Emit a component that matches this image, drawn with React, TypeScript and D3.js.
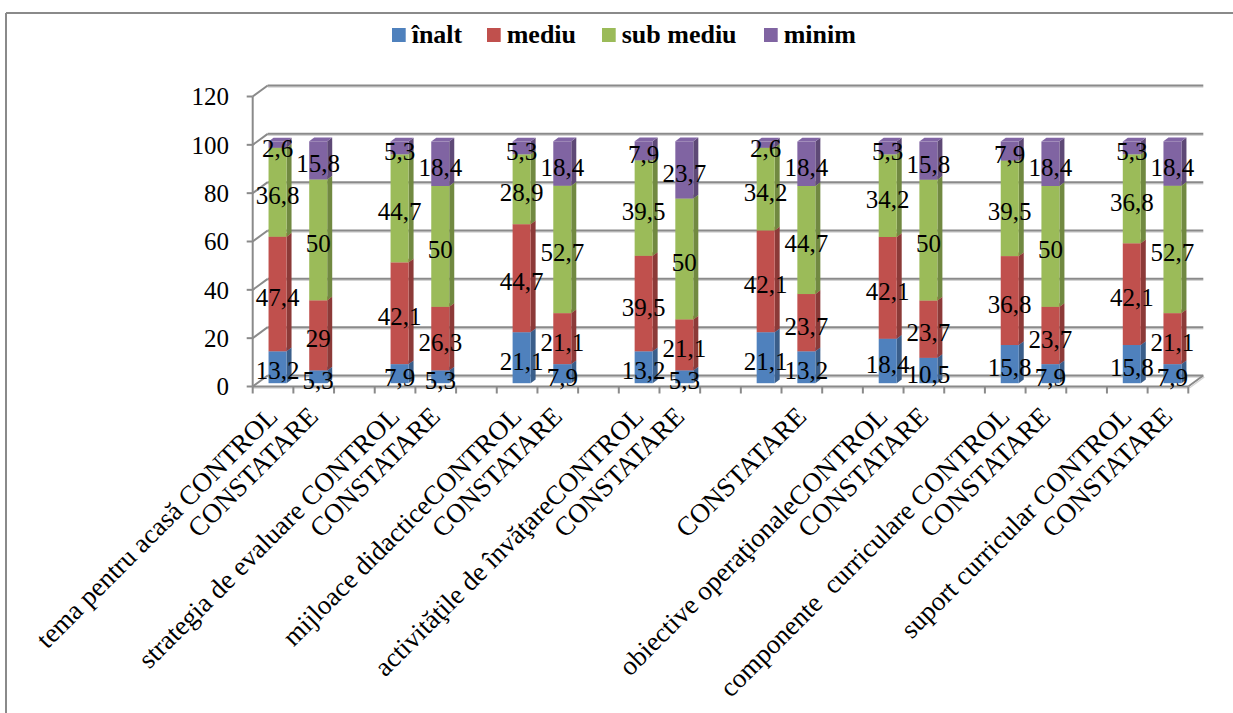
import React from "react";
import * as d3 from "d3";

// Category axis: each pair of columns is followed by an empty slot
const categories: string[] = [
  "tema pentru acasă CONTROL", "CONSTATARE", "",
  "strategia de evaluare CONTROL", "CONSTATARE", "",
  "mijloace didacticeCONTROL", "CONSTATARE", "",
  "activităţile de învăţareCONTROL", "CONSTATARE", "",
  "", "CONSTATARE", "",
  "obiective operaţionaleCONTROL", "CONSTATARE", "",
  "componente  curriculare CONTROL", "CONSTATARE", "",
  "suport curricular CONTROL", "CONSTATARE",
];

const seriesNames = ["înalt", "mediu", "sub mediu", "minim"];
const seriesColors = ["#4F81BD", "#C0504D", "#9BBB59", "#8064A2"];

const inalt: (number | null)[] = [13.2, 5.3, null, 7.9, 5.3, null, 21.1, 7.9, null, 13.2, 5.3, null, 21.1, 13.2, null, 18.4, 10.5, null, 15.8, 7.9, null, 15.8, 7.9];
const mediu: (number | null)[] = [47.4, 29, null, 42.1, 26.3, null, 44.7, 21.1, null, 39.5, 21.1, null, 42.1, 23.7, null, 42.1, 23.7, null, 36.8, 23.7, null, 42.1, 21.1];
const subMediu: (number | null)[] = [36.8, 50, null, 44.7, 50, null, 28.9, 52.7, null, 39.5, 50, null, 34.2, 44.7, null, 34.2, 50, null, 39.5, 50, null, 36.8, 52.7];
const minim: (number | null)[] = [2.6, 15.8, null, 5.3, 18.4, null, 5.3, 18.4, null, 7.9, 23.7, null, 2.6, 18.4, null, 5.3, 15.8, null, 7.9, 18.4, null, 5.3, 18.4];

const yTicks = [0, 20, 40, 60, 80, 100, 120];

const W = 1233;
const H = 713;
const X0 = 252.7;
const X1 = 1188.3;
const Y0 = 386.5;
const Y1 = 96.5;
// depth of the 3D box (back wall offset)
const DX = 15;
const DY = -11;
// bar position inside the depth
const BFX = 4.5;
const BFY = -3.3;
const BDX = 5;
const BDY = -3.7;
const BAR_W = 18;

const FONT = "Liberation Serif, Times New Roman, serif";

const fmt = (v: number) => String(v).replace(".", ",");

export default function App() {
  const series = [inalt, mediu, subMediu, minim];
  const x = d3
    .scaleBand<number>()
    .domain(categories.map((_, i) => i))
    .range([X0, X1])
    .paddingInner(0)
    .paddingOuter(0);
  const y = d3.scaleLinear().domain([0, 120]).range([Y0, Y1]);

  const stack = d3
    .stack<number, string>()
    .keys(seriesNames)
    .value((i, key) => series[seriesNames.indexOf(key)][i] ?? 0);
  const stacked = stack(categories.map((_, i) => i));

  const shade = (c: string, k: number) => {
    const col = d3.color(c)!;
    return k < 1 ? col.darker((1 - k) * 2.2).formatHex() : col.brighter(k - 1).formatHex();
  };

  const gridColor = "#8a8a8a";
  const gridLight = "#d4d4d4";

  const bars: React.ReactNode[] = [];
  const labels: React.ReactNode[] = [];
  categories.forEach((_, i) => {
    if (inalt[i] == null) return;
    const cx = x(i)! + x.bandwidth() / 2;
    const fx0 = cx - BAR_W / 2 + BFX;
    const fx1 = cx + BAR_W / 2 + BFX;
    stacked.forEach((layer, s) => {
      const [v0, v1] = layer[i];
      const val = series[s][i];
      if (val == null || val === 0) return;
      const yb = y(v0) + BFY;
      const yt = y(v1) + BFY;
      const c = seriesColors[s];
      bars.push(
        <g key={`b-${i}-${s}`}>
          <polygon
            points={`${fx1},${yb} ${fx1 + BDX},${yb + BDY} ${fx1 + BDX},${yt + BDY} ${fx1},${yt}`}
            fill={shade(c, 0.6)}
          />
          <polygon
            points={`${fx0},${yt} ${fx1},${yt} ${fx1 + BDX},${yt + BDY} ${fx0 + BDX},${yt + BDY}`}
            fill={shade(c, 1.05)}
          />
          <rect x={fx0} y={yt} width={fx1 - fx0} height={yb - yt} fill={c} />
        </g>
      );
      labels.push(
        <text
          key={`l-${i}-${s}`}
          x={(fx0 + fx1) / 2}
          y={y((v0 + v1) / 2)}
          dy="0.35em"
          textAnchor="middle"
          fontFamily={FONT}
          fontSize={25}
          fill="#000"
        >
          {fmt(val)}
        </text>
      );
    });
  });

  const legendX = [392, 487, 602, 764];

  return (
    <svg
      width={W}
      height={H}
      style={{ position: "absolute", left: 0, top: 0, background: "#fff" }}
    >
      {/* chart frame */}
      <line x1={6} y1={13} x2={W} y2={13} stroke="#8a8a8a" strokeWidth={2} />
      <line x1={6} y1={13} x2={6} y2={H} stroke="#8a8a8a" strokeWidth={2} />

      {/* legend */}
      {seriesNames.map((n, k) => (
        <g key={n}>
          <rect x={legendX[k]} y={28} width={13.7} height={14} fill={seriesColors[k]} />
          <text
            x={legendX[k] + 19.7}
            y={43}
            fontFamily={FONT}
            fontWeight="bold"
            fontSize={26}
            fill="#000"
          >
            {n}
          </text>
        </g>
      ))}

      {/* walls: back wall gridlines and side wall diagonals */}
      {yTicks.map((t) => (
        <g key={`g-${t}`}>
          <line x1={X0 + DX} y1={y(t) + DY + 1.5} x2={X1 + DX} y2={y(t) + DY + 1.5} stroke={gridLight} strokeWidth={1.5} />
          <line x1={X0 + DX} y1={y(t) + DY} x2={X1 + DX} y2={y(t) + DY} stroke={gridColor} strokeWidth={2} />
          <line x1={X0} y1={y(t)} x2={X0 + DX} y2={y(t) + DY} stroke={gridColor} strokeWidth={2} />
          <line x1={X0 - 6} y1={y(t)} x2={X0} y2={y(t)} stroke={gridColor} strokeWidth={2} />
          <text
            x={229}
            y={y(t)}
            dy="0.35em"
            textAnchor="end"
            fontFamily={FONT}
            fontSize={25}
            fill="#000"
          >
            {t}
          </text>
        </g>
      ))}
      {/* vertical axis */}
      <line x1={X0} y1={Y0} x2={X0} y2={Y1} stroke={gridColor} strokeWidth={2} />
      {/* floor */}
      <line x1={X1} y1={Y0} x2={X1 + DX} y2={Y0 + DY} stroke={gridColor} strokeWidth={2} />
      <line x1={X1 + 1} y1={Y0 + 1.5} x2={X1 + DX + 1} y2={Y0 + DY + 1.5} stroke={gridLight} strokeWidth={1.5} />

      {bars}

      {/* category axis */}
      <line x1={X0} y1={Y0 + 1.5} x2={X1} y2={Y0 + 1.5} stroke={gridLight} strokeWidth={1.5} />
      <line x1={X0} y1={Y0} x2={X1} y2={Y0} stroke={gridColor} strokeWidth={2} />
      {d3.range(categories.length + 1).map((k) => {
        const tx = X0 + k * x.bandwidth();
        return <line key={`t-${k}`} x1={tx} y1={Y0} x2={tx} y2={Y0 + 7} stroke={gridColor} strokeWidth={2} />;
      })}
      {categories.map((c, i) => {
        if (!c) return null;
        const cx = x(i)! + x.bandwidth() / 2;
        return (
          <text
            key={`c-${i}`}
            transform={`translate(${cx + 6},${418}) rotate(-45)`}
            textAnchor="end"
            fontFamily={FONT}
            fontSize={27}
            fill="#000"
            style={{ whiteSpace: "pre" }}
          >
            {c}
          </text>
        );
      })}

      {labels}
    </svg>
  );
}
